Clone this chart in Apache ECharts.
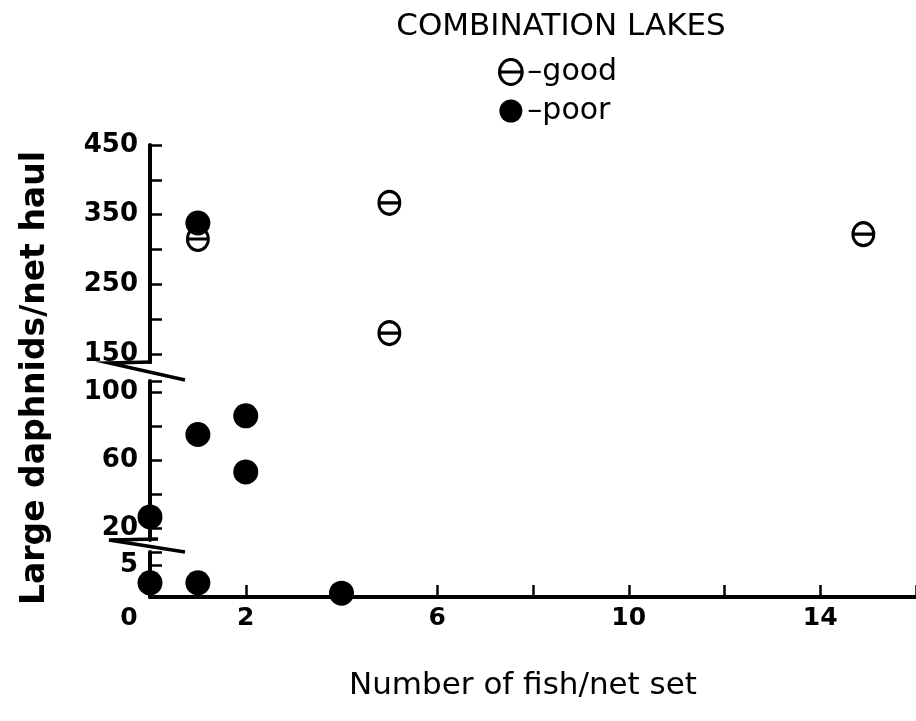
<!DOCTYPE html>
<html>
<head>
<meta charset="utf-8">
<script src="https://cdn.jsdelivr.net/npm/echarts@6/dist/echarts.min.js"></script>
<style>
html, body { margin: 0; padding: 0; background: #fff; }
#chart { width: 916px; height: 721px; }
</style>
</head>
<body>
<div id="chart"></div>
<script>
// [fish per net set, large daphnids per net haul], split by the three pieces of the broken y axis
var goodTop = [[1, 315], [5, 367], [5, 180], [14.9, 322]];
var poorTop = [[1, 338]];
var poorMid = [[1, 75], [2, 86], [2, 53], [0, 26.5]];
var poorLow = [[0, 2.2], [1, 2.2], [4, 0.6]];

var xTicks = [2, 4, 6, 8, 10, 12, 14, 16];
var xLabels = [0, 2, 6, 10, 14];
var topTicks = [150, 200, 250, 300, 350, 400, 450];
var topLabels = [150, 250, 350, 450];
var midTicks = [20, 40, 60, 80, 100, 106.5];
var midLabels = [20, 60, 100];
var lowTicks = [5, 7];
var lowLabels = [5];

var FONT = 'DejaVu Sans';
var theta = 'path://M0,11a10,11 0 1,0 20,0a10,11 0 1,0 -20,0zM0,11h20';
var goodStyle = { color: 'rgba(0,0,0,0)', borderColor: '#000', borderWidth: 3, opacity: 1 };
var poorStyle = { color: '#000', opacity: 1 };

function yAxis(idx, min, max, ticks, labels) {
    return {
        gridIndex: idx, type: 'value', min: min, max: max,
        axisLine: { show: true, lineStyle: { color: '#000', width: 4 } },
        axisTick: { show: true, inside: true, length: 12, customValues: ticks,
            lineStyle: { color: '#000', width: 2.5 } },
        axisLabel: { customValues: labels, margin: 12, color: '#000',
            fontFamily: FONT, fontWeight: 'bold', fontSize: 26 },
        splitLine: { show: false }
    };
}

function hiddenX(idx) {
    return { gridIndex: idx, type: 'value', min: 0, max: 16, show: false };
}

var chart = echarts.init(document.getElementById('chart'));
chart.setOption({
    animation: false,
    backgroundColor: '#fff',
    title: {
        text: 'COMBINATION LAKES', left: 556, top: 6, textAlign: 'center',
        textStyle: { fontFamily: FONT, fontSize: 31, fontWeight: 'normal', color: '#000' }
    },
    legend: {
        orient: 'vertical', left: 493, top: 52, itemWidth: 23, itemHeight: 25, itemGap: 9,
        data: [
            { name: 'good', icon: theta, itemStyle: goodStyle },
            { name: 'poor', icon: 'circle', itemStyle: poorStyle }
        ],
        formatter: function (n) { return '\u2013' + n; },
        textStyle: { fontFamily: FONT, fontSize: 30, color: '#000' }
    },
    grid: [
        { left: 150, right: 0, top: 145, height: 217 },
        { left: 150, right: 0, top: 381, height: 159 },
        { left: 150, right: 0, top: 552, height: 45 }
    ],
    xAxis: [
        hiddenX(0),
        hiddenX(1),
        {
            gridIndex: 2, type: 'value', min: 0, max: 16,
            axisLine: { lineStyle: { color: '#000', width: 4 } },
            axisTick: { inside: true, length: 12, customValues: xTicks,
                lineStyle: { color: '#000', width: 2.5 } },
            axisLabel: {
                customValues: xLabels, margin: 9, color: '#000',
                fontFamily: FONT, fontWeight: 'bold', fontSize: 25,
                formatter: function (v) { return v === 0 ? '{z|0}' : String(v); },
                rich: { z: { padding: [0, 42, 0, 0], fontFamily: FONT, fontWeight: 'bold', fontSize: 25, color: '#000' } }
            },
            splitLine: { show: false },
            name: 'Number of fish/net set', nameLocation: 'middle', nameGap: 73,
            nameTextStyle: { fontFamily: FONT, fontSize: 31, color: '#000', padding: [0, 20, 0, 0] }
        }
    ],
    yAxis: [
        yAxis(0, 138.5, 450, topTicks, topLabels),
        yAxis(1, 12.9, 106.5, midTicks, midLabels),
        yAxis(2, 0, 7, lowTicks, lowLabels)
    ],
    graphic: [
        { type: 'polyline', shape: { points: [[152, 362], [109, 363], [185, 380]] },
          style: { stroke: '#000', lineWidth: 3.5, fill: null } },
        { type: 'polyline', shape: { points: [[158, 539], [109, 540], [185, 552]] },
          style: { stroke: '#000', lineWidth: 3.5, fill: null } },
        { type: 'text', x: 35, y: 378, rotation: Math.PI / 2,
          style: { text: 'Large daphnids/net haul', fontFamily: FONT, fontWeight: 'bold', fontSize: 33,
                   fill: '#000', align: 'center', verticalAlign: 'middle' } }
    ],
    series: [
        { name: 'good', type: 'scatter', xAxisIndex: 0, yAxisIndex: 0, data: goodTop,
          symbol: theta, symbolSize: [21, 23], itemStyle: goodStyle },
        { name: 'poor', type: 'scatter', xAxisIndex: 0, yAxisIndex: 0, data: poorTop,
          symbol: 'circle', symbolSize: 25, itemStyle: poorStyle },
        { name: 'poor', type: 'scatter', xAxisIndex: 1, yAxisIndex: 1, data: poorMid,
          symbol: 'circle', symbolSize: 25, itemStyle: poorStyle },
        { name: 'poor', type: 'scatter', xAxisIndex: 2, yAxisIndex: 2, data: poorLow,
          symbol: 'circle', symbolSize: 25, itemStyle: poorStyle, clip: false }
    ]
});
</script>
</body>
</html>
